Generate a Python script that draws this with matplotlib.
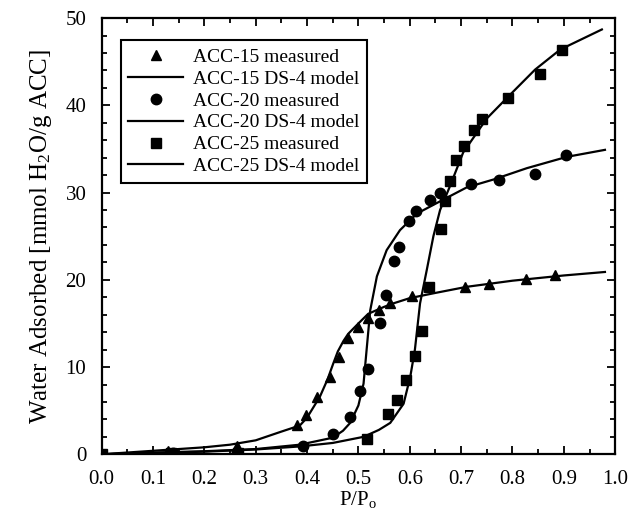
import numpy as np
import matplotlib
matplotlib.use('Agg')
import matplotlib.pyplot as plt

# measured points (P/Po, mmol H2O / g ACC)
p15 = [0.13, 0.263, 0.38, 0.398, 0.42, 0.444, 0.463, 0.48, 0.50, 0.519, 0.541,
       0.562, 0.604, 0.708, 0.755, 0.827, 0.883]
w15 = [0.4, 0.9, 3.4, 4.5, 6.6, 8.9, 11.2, 13.3, 14.6, 15.6, 16.5,
       17.4, 18.1, 19.2, 19.5, 20.1, 20.5]

p20 = [0.14, 0.263, 0.393, 0.451, 0.484, 0.503, 0.519, 0.542, 0.553, 0.569, 0.58,
       0.599, 0.612, 0.64, 0.659, 0.719, 0.774, 0.843, 0.905]
w20 = [0.1, 0.3, 0.9, 2.3, 4.3, 7.3, 9.8, 15.0, 18.3, 22.2, 23.8,
       26.7, 27.9, 29.2, 30.0, 31.0, 31.5, 32.1, 34.3]

p25 = [0.0, 0.135, 0.265, 0.516, 0.558, 0.575, 0.593, 0.61, 0.623, 0.638,
       0.66, 0.669, 0.678, 0.69, 0.706, 0.725, 0.741, 0.792, 0.853, 0.896]
w25 = [0.0, 0.1, 0.2, 1.8, 4.6, 6.2, 8.5, 11.3, 14.1, 19.2,
       25.8, 29.0, 31.3, 33.7, 35.3, 37.2, 38.4, 40.9, 43.6, 46.4]

# DS-4 model curves
m15_p = [0.0, 0.1, 0.2, 0.25, 0.3, 0.35, 0.386, 0.40, 0.425, 0.44, 0.451, 0.46,
         0.471, 0.48, 0.50, 0.519, 0.55, 0.568, 0.60, 0.65, 0.711, 0.80, 0.90, 0.98]
m15_w = [0.0, 0.4, 0.8, 1.1, 1.6, 2.6, 3.3, 4.2, 6.6, 8.6, 10.4, 11.8,
         13.0, 13.8, 15.0, 16.1, 16.9, 17.3, 17.9, 18.5, 19.2, 19.9, 20.5, 20.9]
m20_p = [0.0, 0.1, 0.2, 0.3, 0.386, 0.45, 0.47, 0.484, 0.50, 0.51, 0.516, 0.523,
         0.536, 0.555, 0.581, 0.614, 0.659, 0.711, 0.763, 0.828, 0.906, 0.98]
m20_w = [0.0, 0.2, 0.35, 0.6, 1.1, 1.9, 2.7, 3.6, 5.6, 8.1, 12.0, 16.5,
         20.4, 23.4, 25.7, 27.6, 29.0, 30.6, 31.5, 32.8, 34.1, 34.9]
m25_p = [0.0, 0.1, 0.2, 0.3, 0.386, 0.45, 0.51, 0.54, 0.562, 0.588, 0.601, 0.61,
         0.62, 0.633, 0.646, 0.659, 0.678, 0.704, 0.75, 0.795, 0.844, 0.893, 0.974]
m25_w = [0.0, 0.15, 0.3, 0.55, 0.9, 1.3, 2.0, 2.8, 3.6, 5.8, 8.9, 12.0,
         17.3, 21.1, 25.0, 28.0, 30.7, 34.6, 38.5, 41.2, 44.1, 46.4, 48.7]

plt.rcParams['font.family'] = ['Liberation Serif', 'DejaVu Serif']
plt.rcParams['mathtext.fontset'] = 'custom'
plt.rcParams['mathtext.rm'] = 'Liberation Serif'
plt.rcParams['mathtext.it'] = 'Liberation Serif:italic'

fig = plt.figure(figsize=(6.31, 5.18), dpi=100)
ax = fig.add_axes([0.161, 0.123, 0.814, 0.842])

ax.plot(p15, w15, 'k^', ms=7.5, label='ACC-15 measured')
ax.plot(m15_p, m15_w, 'k-', lw=1.6, label='ACC-15 DS-4 model')
ax.plot(p20, w20, 'ko', ms=7.5, label='ACC-20 measured')
ax.plot(m20_p, m20_w, 'k-', lw=1.6, label='ACC-20 DS-4 model')
ax.plot(p25, w25, 'ks', ms=7, label='ACC-25 measured')
ax.plot(m25_p, m25_w, 'k-', lw=1.6, label='ACC-25 DS-4 model')

ax.set_xlim(0.0, 1.0)
ax.set_ylim(0, 50)
ax.set_xticks(np.arange(0, 1.01, 0.1))
ax.set_xticks(np.arange(0, 1.01, 0.05), minor=True)
ax.set_yticks(np.arange(0, 51, 10))
ax.set_yticks(np.arange(0, 51, 2), minor=True)
ax.xaxis.set_major_formatter(matplotlib.ticker.FormatStrFormatter('%.1f'))

ax.tick_params(which='both', direction='in', top=True, right=True, width=1.3,
               labelsize=15)
ax.tick_params(which='major', length=6)
ax.tick_params(which='minor', length=3.5)
ax.tick_params(axis='x', pad=11)
ax.tick_params(axis='y', pad=11)
for s in ax.spines.values():
    s.set_linewidth(1.6)

ax.set_xlabel(r'P/P$_\mathrm{o}$', fontsize=15, labelpad=0)
ax.set_ylabel(r'Water Adsorbed [mmol H$_2$O/g ACC]', fontsize=18, labelpad=8)

leg = ax.legend(loc='upper left', bbox_to_anchor=(0.037, 0.949), borderaxespad=0,
                fontsize=14, frameon=True, fancybox=False, edgecolor='black',
                handlelength=2.8, labelspacing=0.22, borderpad=0.4,
                handletextpad=0.5, framealpha=1)
leg.get_frame().set_linewidth(1.5)

fig.savefig('out.png', dpi=100)
